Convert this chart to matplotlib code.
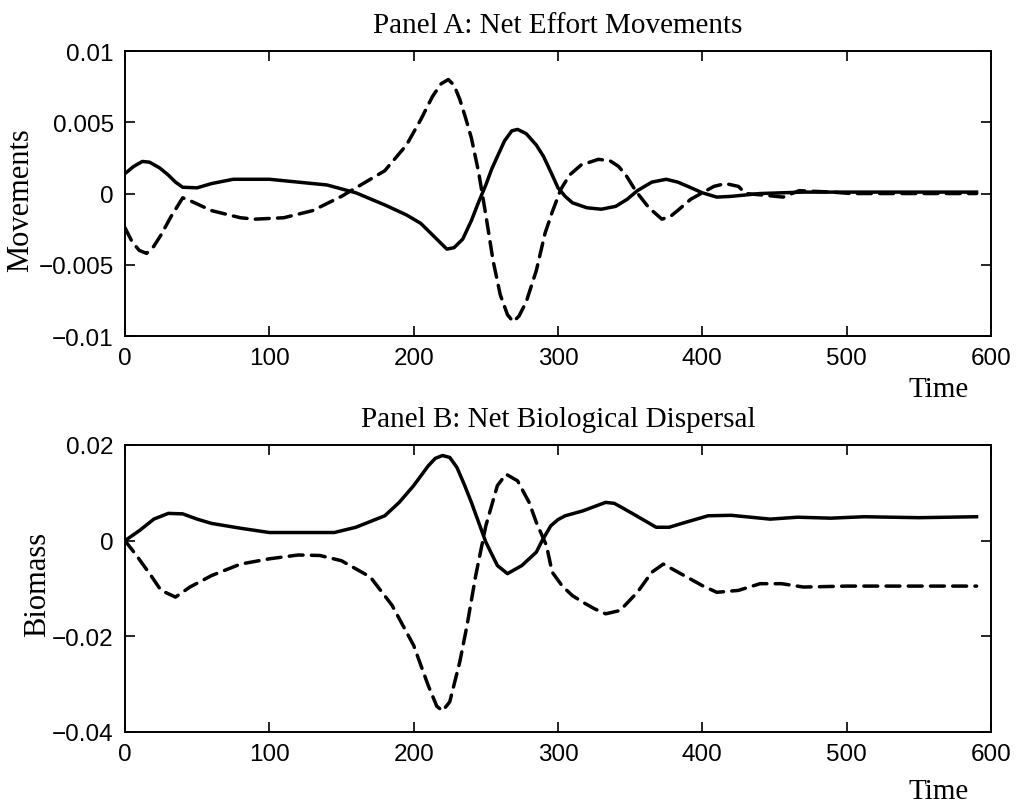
import matplotlib
matplotlib.use("Agg")
import matplotlib.pyplot as plt

# Panel A: net effort movements
t_a_solid = [0, 6, 12, 17, 24, 30, 35, 40, 50, 60, 75, 100, 120, 140, 160, 180, 195, 205,
             215, 223, 228, 234, 240, 245, 250, 254, 258, 263, 268, 272, 278, 285, 290,
             296, 300, 305, 310, 320, 330, 340, 348, 355, 365, 375, 383, 390,
             400, 410, 420, 440, 470, 500, 530, 560, 590]
a_solid = [0.0014, 0.0019, 0.00225, 0.0022, 0.0018, 0.0013, 0.0008, 0.00044, 0.0004, 0.0007,
           0.001, 0.001, 0.0008, 0.0006, 0.00005, -0.0008, -0.0015, -0.0021,
           -0.0031, -0.0039, -0.0038, -0.0032, -0.0019, -0.0006, 0.0006, 0.0017, 0.0026,
           0.0037, 0.0044, 0.0045, 0.0042, 0.0034, 0.0026,
           0.0013, 0.0004, -0.0002, -0.00065, -0.001, -0.0011, -0.0009, -0.0004, 0.0002,
           0.0008, 0.001, 0.0008, 0.0005,
           0.00005, -0.00025, -0.0002, 0.0, 0.0001, 0.0001, 0.0001, 0.0001, 0.0001]

t_a_dash = [0, 5, 10, 15, 20, 25, 32, 40, 45, 60, 80, 90, 110, 130, 150, 160, 180, 195,
            205, 213, 219, 224, 228, 232, 236, 240, 245, 250, 255, 260, 265, 269, 273,
            278, 285, 291, 296, 302, 308, 316, 328, 336, 342, 347,
            354, 363, 372, 378, 384, 392, 400, 408, 416, 425, 430, 441, 456, 467, 490,
            503, 530, 560, 590]
a_dash = [-0.0024, -0.0034, -0.004, -0.0042, -0.0037, -0.0029, -0.0016, -0.0003, -0.0005,
          -0.0012, -0.0017, -0.0018, -0.0017, -0.0012, -0.0002, 0.0004, 0.0016, 0.0034,
          0.0052, 0.0068, 0.0077, 0.008, 0.0076, 0.0066, 0.0053, 0.0039, 0.0015, -0.0015,
          -0.0047, -0.0071, -0.0085, -0.009, -0.0086, -0.0076, -0.0054, -0.0028,
          -0.0013, 0.0003, 0.0013, 0.002, 0.0024, 0.0023, 0.0019, 0.0013,
          0.00016, -0.001, -0.0018, -0.0016, -0.0011, -0.0004, 0.00005, 0.0005, 0.0007,
          0.0005, 0.0, -0.0001, -0.00025, 0.0002, 0.0001, 0.0, 0.0, 0.0, 0.0]

# Panel B: net biological dispersal
t_b_solid = [0, 10, 20, 30, 40, 50, 60, 80, 100, 120, 145, 160, 180, 190, 200, 210, 215,
             220, 225, 230, 235, 240, 250, 258, 265, 275, 285, 289, 295, 300, 305, 317,
             333, 339, 345, 352, 360, 368, 377, 388, 404, 420, 447, 466, 489, 512, 550,
             590]
b_solid = [0.0, 0.0021, 0.0045, 0.0057, 0.0056, 0.0045, 0.0036, 0.0026, 0.0017, 0.0017,
           0.0017, 0.0028, 0.0052, 0.008, 0.0115, 0.0156, 0.0172,
           0.0178, 0.0174, 0.0153, 0.0118, 0.008, -0.0003, -0.0052, -0.0069, -0.0052,
           -0.0024, 0.0, 0.0031, 0.0044, 0.0052, 0.0062,
           0.008, 0.0078, 0.0068, 0.0056, 0.0042, 0.0028, 0.0028, 0.0038, 0.0052, 0.0053,
           0.0045, 0.0049, 0.0047, 0.005, 0.0048, 0.005]

t_b_dash = [0, 8, 18, 25, 35, 45, 60, 80, 100, 120, 135, 150, 170, 185, 200, 210, 216,
            220, 225, 232, 237, 243, 250, 258, 264, 272, 280, 285, 292, 296, 303, 310,
            318, 325, 333, 343, 355, 365, 373, 385, 400, 410, 425, 440, 455, 470, 500,
            550, 590]
b_dash = [0.0, -0.0031, -0.0073, -0.0104, -0.0118, -0.0097, -0.0073, -0.0049, -0.0038,
          -0.003, -0.0031, -0.0042, -0.0076, -0.0135, -0.0219, -0.0302, -0.0346,
          -0.0356, -0.0337, -0.0253, -0.0177, -0.0073, 0.0031, 0.0115, 0.0139, 0.0125,
          0.008, 0.0038, -0.001, -0.0066, -0.0095, -0.0115,
          -0.013, -0.0142, -0.0153, -0.0146, -0.0108,
          -0.0066, -0.0049, -0.0069, -0.0094, -0.0108, -0.0104, -0.009, -0.009, -0.0097,
          -0.0095, -0.0095, -0.0095]

x_ticks = [0, 100, 200, 300, 400, 500, 600]
a_yticks = [-0.01, -0.005, 0, 0.005, 0.01]
a_ylabels = ["\u22120.01", "\u22120.005", "0", "0.005", "0.01"]
b_yticks = [-0.04, -0.02, 0, 0.02]
b_ylabels = ["\u22120.04", "\u22120.02", "0", "0.02"]

plt.rcParams['font.family'] = ['Liberation Sans', 'DejaVu Sans']
serif = ['Liberation Serif', 'DejaVu Serif']

fig = plt.figure(figsize=(10.16, 8.03), dpi=100)
ax_a = fig.add_axes([0.123, 0.5803, 0.8524, 0.3549])
ax_b = fig.add_axes([0.123, 0.0872, 0.8524, 0.3574])

paneles = [
    (ax_a, t_a_solid, a_solid, t_a_dash, a_dash, (-0.01, 0.01), a_yticks, a_ylabels,
     "Panel A: Net Effort Movements", "Movements", -0.21, (-0.104, 0.482)),
    (ax_b, t_b_solid, b_solid, t_b_dash, b_dash, (-0.04, 0.02), b_yticks, b_ylabels,
     "Panel B: Net Biological Dispersal", "Biomass", -0.23, (-0.084, 0.516)),
]

for ax, ts, ys, td, yd, ylim, yt, ylab, titulo, etiqueta, y_time, pos_lab in paneles:
    ax.plot(ts, ys, color='black', lw=2.5, solid_joinstyle='round')
    ax.plot(td, yd, color='black', lw=2.5, linestyle=(0, (4, 2.4)),
            dash_capstyle='round')
    ax.set_xlim(0, 600)
    ax.set_ylim(*ylim)
    ax.set_xticks(x_ticks)
    ax.set_xticklabels([str(v) for v in x_ticks])
    ax.set_yticks(yt)
    ax.set_yticklabels(ylab)
    ax.tick_params(direction='in', top=True, right=True, length=7, width=1.2,
                   labelsize=17.5, pad=8)
    for sp in ax.spines.values():
        sp.set_linewidth(1.4)
    ax.text(0.5, 1.067, titulo, transform=ax.transAxes, ha='center', va='baseline',
            fontsize=21, family=serif)
    ax.set_ylabel(etiqueta, fontsize=22, family=serif)
    ax.yaxis.set_label_coords(*pos_lab)
    ax.text(0.94, y_time, "Time", transform=ax.transAxes, ha='center', va='baseline',
            fontsize=21, family=serif)

fig.savefig("out.png", dpi=100)
